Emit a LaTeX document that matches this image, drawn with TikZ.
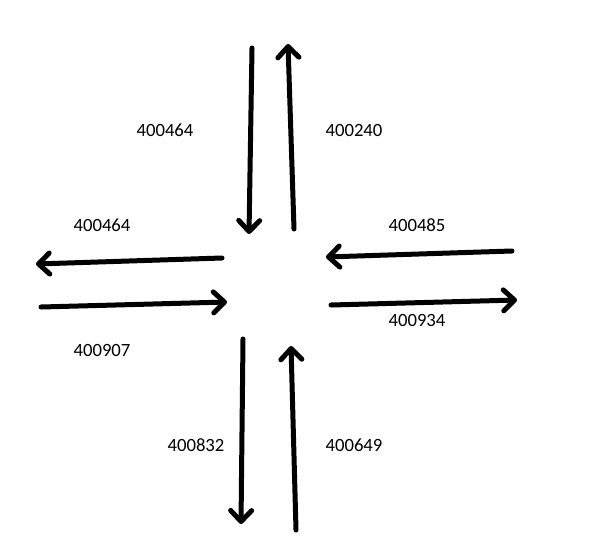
\documentclass[tikz,border=0pt]{standalone}
\usepackage{fontspec}
\setmainfont{Carlito}
\usetikzlibrary{arrows.meta}
\begin{document}
\begin{tikzpicture}[x=1pt,y=-1pt,
  flow/.style={line width=5pt,line cap=round,-{Straight Barb[length=11pt,width=21pt,round]}},
  lbl/.style={font=\fontsize{18.7}{20}\selectfont,inner sep=0pt}]
\useasboundingbox[fill=white] (0,0) rectangle (604,549);
% arrow endpoints
\coordinate (a1s) at (252,48);  \coordinate (a1e) at (249,234);
\coordinate (a2s) at (294,229); \coordinate (a2e) at (288,44);
\coordinate (a3s) at (222,258); \coordinate (a3e) at (36,264);
\coordinate (a4s) at (41,307);  \coordinate (a4e) at (227,302);
\coordinate (a5s) at (512,251); \coordinate (a5e) at (326,257);
\coordinate (a6s) at (331,305); \coordinate (a6e) at (517,300);
\coordinate (a7s) at (243,339); \coordinate (a7e) at (241,524);
\coordinate (a8s) at (296,530); \coordinate (a8e) at (291,346);
\draw[flow] (a1s) -- (a1e);
\draw[flow] (a2s) -- (a2e);
\draw[flow] (a3s) -- (a3e);
\draw[flow] (a4s) -- (a4e);
\draw[flow] (a5s) -- (a5e);
\draw[flow] (a6s) -- (a6e);
\draw[flow] (a7s) -- (a7e);
\draw[flow] (a8s) -- (a8e);
% labels
\node[lbl] (l1) at (165,130) {400464};
\node[lbl] (l2) at (354,130) {400240};
\node[lbl] (l3) at (102,225) {400464};
\node[lbl] (l4) at (417,225) {400485};
\node[lbl] (l5) at (102,350) {400907};
\node[lbl] (l6) at (417,320) {400934};
\node[lbl] (l7) at (196,445) {400832};
\node[lbl] (l8) at (354,445) {400649};
\end{tikzpicture}
\end{document}
